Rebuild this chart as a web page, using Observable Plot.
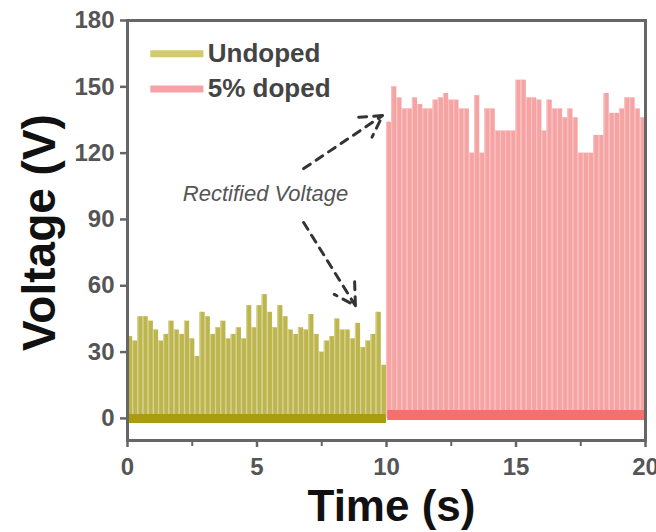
<!DOCTYPE html>
<html><head><meta charset="utf-8">
<script src="https://cdn.jsdelivr.net/npm/d3@7"></script>
<script src="https://cdn.jsdelivr.net/npm/@observablehq/plot@0.6"></script>
<style>
body{margin:0;background:#fff}
#chart{width:656px;height:532px}
#chart svg g[aria-label$="tick label"] text{font-weight:bold}
</style>
</head><body><div id="chart"></div>
<script>
// ---- data ----
const undopedTime = [0.0,0.2,0.4,0.6,0.8,1.0,1.2,1.4,1.6,1.8,2.0,2.2,2.4,2.6,2.8,3.0,3.2,3.4,3.6,3.8,4.0,4.2,4.4,4.6,4.8,5.0,5.2,5.4,5.6,5.8,6.0,6.2,6.4,6.6,6.8,7.0,7.2,7.4,7.6,7.8,8.0,8.2,8.4,8.6,8.8,9.0,9.2,9.4,9.6,9.8];
const undopedVoltage = [37,35,46,46,44,40,35,38,44,40,38,44,36,28,48,46,38,41,44,36,38,41,36,51,41,51,56,48,41,51,46,40,38,41,40,47,38,30,35,37,45,40,40,36,43,32,35,38,48,24];
const dopedTime = [10.0,10.2,10.4,10.6,10.8,11.0,11.2,11.4,11.6,11.8,12.0,12.2,12.4,12.6,12.8,13.0,13.2,13.4,13.6,13.8,14.0,14.2,14.4,14.6,14.8,15.0,15.2,15.4,15.6,15.8,16.0,16.2,16.4,16.6,16.8,17.0,17.2,17.4,17.6,17.8,18.0,18.2,18.4,18.6,18.8,19.0,19.2,19.4,19.6,19.8];
const dopedVoltage = [134,150,145,140,140,145,142,140,140,144,145,147,144,144,140,140,120,146,120,140,140,130,130,130,130,153,153,145,145,144,130,144,140,140,136,140,136,120,120,120,128,128,147,138,138,140,145,145,140,136];
const seriesNames = ["Undoped", "5% doped"];
const xTicks = [0, 5, 10, 15, 20];
const xMinorTicks = [2.5, 7.5, 12.5, 17.5];
const yTicks = [0, 30, 60, 90, 120, 150, 180];
const xLabel = "Time (s)";
const yLabel = "Voltage (V)";
const annotationText = "Rectified Voltage";

// ---- build ----
const step = 0.2;
const undoped = undopedTime.map((t, i) => ({t, t2: t + step, v: undopedVoltage[i]}));
const doped = dopedTime.map((t, i) => ({t, t2: t + step, v: dopedVoltage[i]}));
const olive = "#bdb64f", oliveLight = "#d8d393", oliveDark = "#a99c12";
const red = "#f6a3a3", redLight = "#f9c2c2", redDark = "#f66f6f";

const arrows = [
  {x1: 6.8, y1: 113, x2: 9.85, y2: 137},
  {x1: 6.8, y1: 88.6, x2: 8.8, y2: 51}
];

const plot = Plot.plot({
  width: 656, height: 532,
  marginLeft: 127, marginRight: 11, marginTop: 20, marginBottom: 92,
  x: {domain: [0, 20]},
  y: {domain: [-10, 180]},
  style: {fontFamily: "'Liberation Sans', Arial, sans-serif", background: "#fff", color: "#555"},
  marks: [
    // undoped pulses
    Plot.rectY(undoped, {x1: "t", x2: "t2", y1: 0, y2: "v", fill: olive}),
    Plot.ruleX(undoped, {x: "t", y1: 0, y2: "v", stroke: oliveLight, strokeWidth: 1.2}),
    Plot.ruleY([0], {x1: undopedTime[0], x2: undopedTime[undopedTime.length - 1] + step, stroke: oliveDark, strokeWidth: 9}),
    // doped pulses
    Plot.rectY(doped, {x1: "t", x2: "t2", y1: 0, y2: "v", fill: red}),
    Plot.ruleX(doped, {x: "t", y1: 0, y2: "v", stroke: redLight, strokeWidth: 1.2}),
    Plot.ruleY([1.5], {x1: dopedTime[0] + 0.05, x2: 20, stroke: redDark, strokeWidth: 10}),
    // axes
    Plot.axisX({ticks: xMinorTicks, tickSize: 6, text: null, stroke: "#666", strokeWidth: 2, label: null}),
    Plot.axisX({ticks: xTicks, tickSize: 7, tickPadding: 10, fontSize: 24, fill: "#555", stroke: "#666", strokeWidth: 2.5, label: null}),
    Plot.axisY({ticks: yTicks, tickSize: 7, tickPadding: 6, fontSize: 24, fill: "#555", stroke: "#666", strokeWidth: 2.5, label: null}),
    Plot.frame({stroke: "#666", strokeWidth: 3}),
    // legend
    Plot.ruleY([165], {x1: 0.9, x2: 2.95, stroke: "#d2cb6c", strokeWidth: 7}),
    Plot.ruleY([149], {x1: 0.9, x2: 2.95, stroke: "#f7a1a6", strokeWidth: 7}),
    Plot.text([seriesNames[0]], {x: 3.1, y: 165, text: d => d, textAnchor: "start", fontSize: 26, fontWeight: "bold", fill: "#444"}),
    Plot.text([seriesNames[1]], {x: 3.1, y: 149, text: d => d, textAnchor: "start", fontSize: 26, fontWeight: "bold", fill: "#444"}),
    // annotation
    Plot.text([annotationText], {x: 5.33, y: 101.5, text: d => d, fontSize: 22, fontStyle: "italic", fill: "#555"}),
    Plot.arrow(arrows, {x1: "x1", y1: "y1", x2: "x2", y2: "y2", stroke: "#333", strokeWidth: 3, strokeDasharray: "8,7", headLength: 12}),
    // axis titles
    Plot.text([xLabel], {frameAnchor: "bottom", textAnchor: "middle", lineAnchor: "bottom", dx: 5, dy: 80, text: d => d, fontSize: 44, fontWeight: "bold", fill: "#111"}),
    Plot.text([yLabel], {frameAnchor: "left", textAnchor: "middle", lineAnchor: "middle", dx: -87, dy: 2, rotate: -90, text: d => d, fontSize: 46, fontWeight: "bold", fill: "#111"})
  ]
});
document.getElementById("chart").appendChild(plot);
</script>
</body></html>
